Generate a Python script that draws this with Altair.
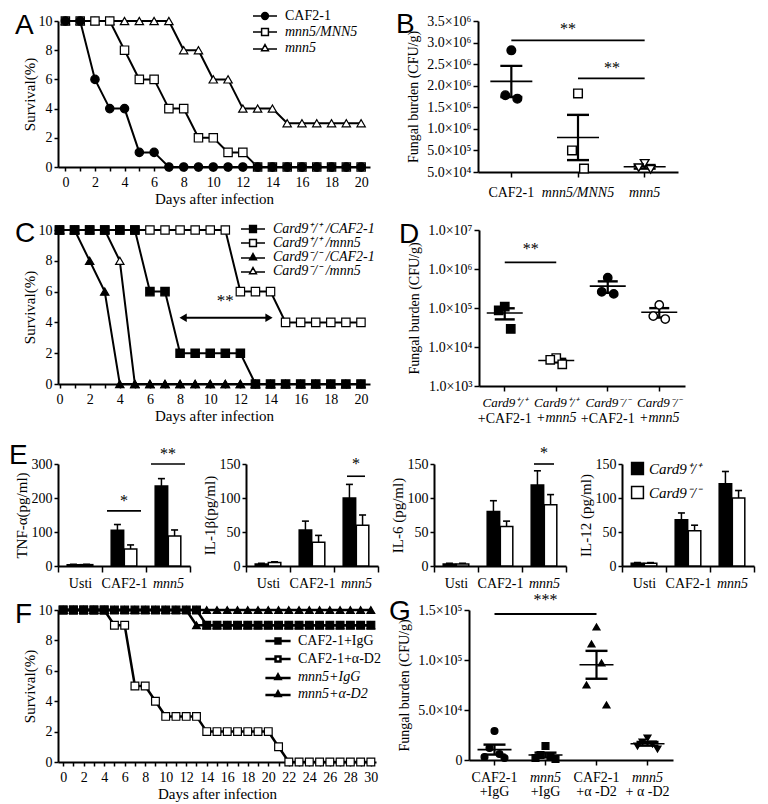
import altair as alt
import pandas as pd

SERIF = "Liberation Serif"
SANS = "Liberation Sans"

# ---------------- Panel A data ----------------
a_days = list(range(21))
a_names = ["CAF2-1", "mnn5/MNN5", "mnn5"]
a_caf = [10, 10, 6, 4, 4, 1, 1, 0, 0, 0, 0, 0, 0, 0, 0, 0, 0, 0, 0, 0, 0]
a_rev = [10, 10, 10, 10, 8, 6, 6, 4, 4, 2, 2, 1, 1, 0, 0, 0, 0, 0, 0, 0, 0]
a_mut = [10, 10, 10, 10, 10, 10, 10, 10, 8, 8, 6, 6, 4, 4, 4, 3, 3, 3, 3, 3, 3]

# ---------------- Panel B data ----------------
b_groups = ["CAF2-1", "mnn5/MNN5", "mnn5"]
b_caf = [2.82e6, 1.78e6, 1.70e6]
b_rev = [1.82e6, 0.50e6, 0.08e6]
b_mut = [0.20e6, 0.10e6, 0.06e6]
b_yticks = [0, 5e5, 1e6, 1.5e6, 2e6, 2.5e6, 3e6, 3.5e6]
b_sig_from = ["CAF2-1", "mnn5/MNN5"]
b_sig_to = ["mnn5", "mnn5"]
b_sig_y = [3.05e6, 2.17e6]
b_sig_text_y = [3.32e6, 2.42e6]

# ---------------- Panel C data ----------------
c_days = list(range(21))
c_names = ["Card9⁺/⁺ /CAF2-1", "Card9⁺/⁺ /mnn5", "Card9⁻/⁻ /CAF2-1", "Card9⁻/⁻ /mnn5"]
c_wt_caf = [10, 10, 10, 10, 10, 10, 6, 6, 2, 2, 2, 2, 2, 0, 0, 0, 0, 0, 0, 0, 0]
c_wt_mut = [10, 10, 10, 10, 10, 10, 10, 10, 10, 10, 10, 10, 6, 6, 6, 4, 4, 4, 4, 4, 4]
c_ko_caf = [10, 10, 8, 6, 0, 0, 0, 0, 0, 0, 0, 0, 0, 0, 0, 0, 0, 0, 0, 0, 0]
c_ko_mut = [10, 10, 10, 10, 8, 0, 0, 0, 0, 0, 0, 0, 0, 0, 0, 0, 0, 0, 0, 0, 0]
c_arrow_days = [8.2, 13.9]
c_arrow_y = 4.3
c_star_day = 11
c_star_y = 5.4

# ---------------- Panel D data ----------------
d_line1 = ["Card9⁺/⁺", "Card9⁺/⁺", "Card9⁻/⁻", "Card9⁻/⁻"]
d_line2 = ["+CAF2-1", "+mnn5", "+CAF2-1", "+mnn5"]
d_wt_caf = [1.08e5, 8.7e4, 2.9e4]
d_wt_mut = [5.2e3, 4.7e3, 3.6e3]
d_ko_caf = [6.0e5, 2.6e5, 2.3e5]
d_ko_mut = [1.2e5, 6.2e4, 5.2e4]
d_yticks = [1e3, 1e4, 1e5, 1e6, 1e7]
d_sig_y = 1.48e6
d_sig_text_y = 3.2e6

# ---------------- Panel E data ----------------
e_cats = ["Usti", "CAF2-1", "mnn5"]
e_geno = ["Card9⁺/⁺", "Card9⁻/⁻"]
e_tnf_wt, e_tnf_wt_err = [4, 105, 235], [1, 17, 22]
e_tnf_ko, e_tnf_ko_err = [4, 50, 88], [1, 12, 18]
e_il1_wt, e_il1_wt_err = [3, 53, 100], [1, 13, 20]
e_il1_ko, e_il1_ko_err = [5, 35, 60], [1, 10, 15]
e_il6_wt, e_il6_wt_err = [3, 80, 119], [1, 16, 21]
e_il6_ko, e_il6_ko_err = [3, 58, 90], [1, 8, 15]
e_il12_wt, e_il12_wt_err = [4, 68, 121], [1, 10, 18]
e_il12_ko, e_il12_ko_err = [4, 52, 100], [1, 8, 11]

# ---------------- Panel F data ----------------
f_days = list(range(31))
f_names = ["CAF2-1+IgG", "CAF2-1+α-D2", "mnn5+IgG", "mnn5+α-D2"]
f_caf_igg = [10, 10, 10, 10, 10, 10, 10, 10, 10, 10, 10, 10, 10, 10, 9, 9, 9, 9, 9, 9, 9, 9, 9, 9, 9, 9, 9, 9, 9, 9, 9]
f_caf_ad2 = [10, 10, 10, 10, 10, 9, 9, 5, 5, 4, 3, 3, 3, 3, 2, 2, 2, 2, 2, 2, 2, 1, 0, 0, 0, 0, 0, 0, 0, 0, 0]
f_mut_igg = [10, 10, 10, 10, 10, 10, 10, 10, 10, 10, 10, 10, 10, 9, 9, 9, 9, 9, 9, 9, 9, 9, 9, 9, 9, 9, 9, 9, 9, 9, 9]
f_mut_ad2 = [10, 10, 10, 10, 10, 10, 10, 10, 10, 10, 10, 10, 10, 10, 10, 10, 10, 10, 10, 10, 10, 10, 10, 10, 10, 10, 10, 10, 10, 10, 10]

# ---------------- Panel G data ----------------
g_line1 = ["CAF2-1", "mnn5", "CAF2-1", "mnn5"]
g_line2 = ["+IgG", "+IgG", "+α -D2", "+ α -D2"]
g_caf_igg = [2.9e4, 1.2e4, 6e3, 3e3, 2e3]
g_mut_igg = [1.4e4, 5e3, 3e3, 2e3, 1e3]
g_caf_ad2 = [1.33e5, 1.16e5, 9.7e4, 7.5e4, 5.5e4]
g_mut_ad2 = [2.2e4, 1.8e4, 1.6e4, 1.4e4, 1.1e4]
g_yticks = [0, 5e4, 1e5, 1.5e5]
g_sig_y = 1.46e5
g_sig_text_y = 1.6e5


# ================= helpers =================
def long_surv(days, names, series):
    rows = []
    for n, vals in zip(names, series):
        for d, v in zip(days, vals):
            rows.append({"day": d, "surv": v, "series": n})
    return pd.DataFrame(rows)


def scatter_df(groups, lists):
    rows = []
    for g, vals in zip(groups, lists):
        for v in vals:
            rows.append({"grp": g, "val": v})
    return pd.DataFrame(rows)


def lpath(kind, L=3.0, m=0.85):
    if kind == "circle":
        return (f"M{-L},0H{-m}M{m},0H{L}"
                f"M{-m},0A{m},{m},0,1,0,{m},0A{m},{m},0,1,0,{-m},0Z")
    if kind == "square":
        return f"M{-L},0H{-m}M{m},0H{L}M{-m},{-m}H{m}V{m}H{-m}Z"
    g = round(0.72 * m, 3)
    return f"M{-L},0.25H{-g}M{g},0.25H{L}M0,{-m}L{m},{round(0.8*m,3)}H{-m}Z"


def letter(ch, dx, dy):
    return alt.Chart(pd.DataFrame({"t": [ch]})).mark_text(
        font=SANS, fontSize=28, align="left", baseline="top", color="black"
    ).encode(text="t:N", x=alt.value(dx), y=alt.value(dy))


def cond_italic(test):
    return {"condition": {"test": test, "value": "italic"}, "value": "normal"}


def surv_panel(df, names, shapes, fills, lkinds, w, h, xdom, xvals, leg_x, leg_y,
               leg_style, letter_ch, ldx, ldy, psize=70, lsize=64, lstroke=1.5,
               line_w=2, L=3.0, m=0.85, row_pad=2, extra=()):
    def X(f):
        return alt.X(f, scale=alt.Scale(domain=xdom, nice=False, zero=False),
                     axis=alt.Axis(values=xvals,
                                   labelExpr="datum.value % 2 == 0 ? datum.label : ''",
                                   tickSize=4, labelPadding=4, titlePadding=2,
                                   labelFlush=False, labelOverlap=False),
                     title="Days after infection")

    def Y(f):
        return alt.Y(f, scale=alt.Scale(domain=[0, 10], nice=False),
                     axis=alt.Axis(values=[0, 2, 4, 6, 8, 10], tickSize=4, titlePadding=1,
                                   labelPadding=2),
                     title="Survival(%)")

    line = alt.Chart(df).mark_line(color="black", strokeWidth=line_w).encode(
        x=X("day:Q"), y=Y("surv:Q"), detail="series:N")
    pts = alt.Chart(df).mark_point(filled=True, opacity=1, stroke="black",
                                   strokeWidth=1.2, size=psize).encode(
        x=X("day:Q"), y=Y("surv:Q"),
        shape=alt.Shape("series:N", scale=alt.Scale(domain=names, range=shapes), legend=None),
        fill=alt.Fill("series:N", scale=alt.Scale(domain=names, range=fills), legend=None))
    main_layers = [line, pts]
    for e in extra:
        main_layers.append(e(X, Y))
    main_layers.append(letter(letter_ch, ldx, ldy))
    main = alt.layer(*main_layers)

    lp = dict(title=None, orient="none", legendX=leg_x, legendY=leg_y, symbolSize=lsize,
              symbolStrokeWidth=lstroke, symbolStrokeColor="black", labelOffset=13,
              rowPadding=row_pad, labelFontSize=14, labelFont=SERIF, labelColor="black",
              labelFontStyle=leg_style, symbolOpacity=1)
    # legend-only layer: its points fall outside its own y-domain and are clipped away
    leg = alt.Chart(df).mark_point(filled=True, clip=True, opacity=1,
                                   strokeWidth=lstroke).encode(
        x=X("day:Q"),
        y=alt.Y("surv:Q", scale=alt.Scale(domain=[-30, -20]), axis=None),
        shape=alt.Shape("series:N", scale=alt.Scale(
            domain=names, range=[lpath(k, L, m) for k in lkinds]), legend=alt.Legend(**lp)),
        fill=alt.Fill("series:N", scale=alt.Scale(domain=names, range=fills),
                      legend=alt.Legend(**lp)),
        stroke=alt.Stroke("series:N", scale=alt.Scale(domain=names, range=["black"] * len(names)),
                          legend=alt.Legend(**lp)))
    return alt.layer(main, leg).resolve_scale(
        y="independent", shape="independent", fill="independent",
        stroke="independent").properties(width=w, height=h)


def scatter_layers(df, groups, shapes, fills, psize, X, Y, jit, mean_len, cap_len):
    pts = (alt.Chart(df)
           .transform_window(rk="row_number()", groupby=["grp"],
                             sort=[alt.SortField("val", order="descending")])
           .transform_calculate(
               off="datum.rk == 1 ? 0 : (datum.rk % 2 == 0 ? -1 : 1) * floor(datum.rk / 2)")
           .mark_point(filled=True, size=psize, stroke="black", strokeWidth=1.4, opacity=1)
           .encode(x=X("grp:N"),
                   xOffset=alt.XOffset("off:Q", scale=alt.Scale(domain=[-1, 1], range=[-jit, jit])),
                   y=Y("val:Q"),
                   shape=alt.Shape("grp:N", scale=alt.Scale(domain=groups, range=shapes), legend=None),
                   fill=alt.Fill("grp:N", scale=alt.Scale(domain=groups, range=fills), legend=None)))
    stats = (alt.Chart(df)
             .transform_aggregate(m="mean(val)", se="stderr(val)", groupby=["grp"])
             .transform_calculate(lo="datum.m - datum.se", hi="datum.m + datum.se"))
    rule = stats.mark_rule(color="black", strokeWidth=2.2).encode(
        x=X("grp:N"), y=Y("lo:Q"), y2=alt.Y2("hi:Q"))
    mean = stats.mark_tick(color="black", size=mean_len, thickness=1.6, opacity=1).encode(
        x=X("grp:N"), y=Y("m:Q"))
    caps = stats.transform_fold(["lo", "hi"], as_=["k", "v"]).mark_tick(
        color="black", size=cap_len, thickness=2.4, opacity=1).encode(x=X("grp:N"), y=Y("v:Q"))
    return [rule, mean, caps, pts]


def cat_scale(groups):
    # band scale with zero bandwidth: categories sit exactly on step centres
    return alt.Scale(domain=groups, type="band", paddingInner=1, paddingOuter=0.5)


def sig_rule(a, b, yv, X, Y):
    return alt.Chart(pd.DataFrame({"a": [a], "b": [b], "y": [yv]})).mark_rule(
        color="black", strokeWidth=1.8).encode(x=X("a:N"), x2=alt.X2("b"), y=Y("y:Q"))


def sig_text(at, yv, txt, X, Y, dx=0, size=16):
    return alt.Chart(pd.DataFrame({"at": [at], "y": [yv], "t": [txt]})).mark_text(
        font=SERIF, fontSize=size, color="black", dx=dx, baseline="middle").encode(
        x=X("at:N"), y=Y("y:Q"), text="t:N")


FB_TITLE = "Fungal burden (CFU/g)"

# ================= Panel A =================
dfA = long_surv(a_days, [a_names[2], a_names[1], a_names[0]], [a_mut, a_rev, a_caf])
A = surv_panel(dfA, a_names, ["circle", "square", "triangle-up"], ["black", "white", "white"],
               ["circle", "square", "triangle"], 312, 146, [-0.5, 20.6], a_days,
               200, -12, {"expr": "datum.label == 'CAF2-1' ? 'normal' : 'italic'"},
               "A", -43, -9, row_pad=2)


# ================= Panel B =================
def B_panel():
    w, h = 200, 151
    xax = alt.Axis(labelAngle=0, labelPadding=8, tickSize=5, labelFontSize=14,
                   labelFontStyle=cond_italic("datum.value != 'CAF2-1'"))
    ys = alt.Scale(domain=[0, 3.5e6], nice=False)
    yax = alt.Axis(values=b_yticks, tickSize=5, titlePadding=6, titleFontSize=14,
                   labelExpr="datum.value == 0 ? '5.0×10⁴' : (datum.value < 1e6 ? '5.0×10⁵' : "
                             "format(datum.value / 1e6, '.1f') + '×10⁶')")

    def X(f):
        return alt.X(f, scale=cat_scale(b_groups), axis=xax, title=None)

    def Y(f):
        return alt.Y(f, scale=ys, axis=yax, title=FB_TITLE)

    df = scatter_df(b_groups, [b_caf, b_rev, b_mut])
    layers = scatter_layers(df, b_groups, ["circle", "square", "triangle-down"],
                            ["black", "white", "white"], 75, X, Y, 6, 42, 22)
    layers += [sig_rule(b_sig_from[0], b_sig_to[0], b_sig_y[0], X, Y),
               sig_rule(b_sig_from[1], b_sig_to[1], b_sig_y[1], X, Y),
               sig_text(b_groups[1], b_sig_text_y[0], "**", X, Y, dx=-10),
               sig_text(b_groups[1], b_sig_text_y[1], "**", X, Y, dx=34),
               letter("B", -82, -10)]
    return alt.layer(*layers).properties(width=w, height=h)


B = B_panel()


# ================= Panel C =================
def arrow_layers(X, Y):
    adf = pd.DataFrame({"x1": [c_arrow_days[0]], "x2": [c_arrow_days[1]], "y": [c_arrow_y]})
    rule = alt.Chart(adf).mark_rule(color="black", strokeWidth=2).encode(
        x=X("x1:Q"), x2=alt.X2("x2"), y=Y("y:Q"))
    left = alt.Chart(adf).mark_point(shape="triangle-left", filled=True, color="black",
                                     size=70, opacity=1).encode(x=X("x1:Q"), y=Y("y:Q"))
    right = alt.Chart(adf).mark_point(shape="triangle-right", filled=True, color="black",
                                      size=70, opacity=1).encode(x=X("x2:Q"), y=Y("y:Q"))
    txt = alt.Chart(pd.DataFrame({"d": [c_star_day], "y": [c_star_y], "t": ["**"]})).mark_text(
        font=SERIF, fontSize=17, color="black").encode(x=X("d:Q"), y=Y("y:Q"), text="t:N")
    return alt.layer(rule, left, right, txt)


dfC = long_surv(c_days, [c_names[3], c_names[1], c_names[2], c_names[0]],
                [c_ko_mut, c_wt_mut, c_ko_caf, c_wt_caf])
C = surv_panel(dfC, c_names, ["square", "square", "triangle-up", "triangle-up"],
               ["black", "white", "black", "white"],
               ["square", "square", "triangle", "triangle"], 312, 154, [-0.1, 20.6], c_days,
               188, -8, "italic", "C", -43, -10, row_pad=0, extra=[arrow_layers])


# ================= Panel D =================
def D_panel():
    w, h = 206, 156
    groups = [a + "|" + b for a, b in zip(d_line1, d_line2)]
    xax = alt.Axis(labelAngle=0, labelPadding=5, tickSize=5, labelFontSize=13,
                   labelFontStyle="italic", labelExpr="split(datum.label, '|')[0]")
    ys = alt.Scale(type="log", domain=[1e3, 1e7], nice=False)
    yax = alt.Axis(values=d_yticks, tickSize=5, titlePadding=6, titleFontSize=14,
                   labelExpr="'1.0×10' + ['³','⁴','⁵','⁶','⁷'][round(log(datum.value) / LN10) - 3]")

    def X(f):
        return alt.X(f, scale=cat_scale(groups), axis=xax, title=None)

    def Y(f):
        return alt.Y(f, scale=ys, axis=yax, title=FB_TITLE)

    df = scatter_df(groups, [d_wt_caf, d_wt_mut, d_ko_caf, d_ko_mut])
    layers = scatter_layers(df, groups, ["square", "square", "circle", "circle"],
                            ["black", "white", "black", "white"], 70, X, Y, 6, 36, 20)
    l2 = pd.DataFrame({"grp": groups, "l2": d_line2})
    t_norm = alt.Chart(l2).transform_filter("indexof(datum.l2, 'mnn5') < 0").mark_text(
        font=SERIF, fontSize=14, color="black", baseline="middle").encode(
        x=X("grp:N"), y=alt.value(h + 33), text="l2:N")
    t_ital = alt.Chart(l2).transform_filter("indexof(datum.l2, 'mnn5') >= 0").mark_text(
        font=SERIF, fontSize=14, color="black", baseline="middle", fontStyle="italic").encode(
        x=X("grp:N"), y=alt.value(h + 32), text="l2:N")
    layers += [sig_rule(groups[0], groups[1], d_sig_y, X, Y),
               sig_text(groups[0], d_sig_text_y, "**", X, Y, dx=26),
               t_norm, t_ital, letter("D", -80, -9)]
    return alt.layer(*layers).properties(width=w, height=h)


D = D_panel()


# ================= Panel E =================
def cyto_panel(title, wt, wt_err, ko, ko_err, ymax, yticks, sigs, w, h,
               show_legend=False, letter_ch=None, title_pad=2):
    df = pd.DataFrame({"cat": e_cats + e_cats,
                       "geno": [e_geno[0]] * 3 + [e_geno[1]] * 3,
                       "val": wt + ko, "err": wt_err + ko_err})
    xs = alt.Scale(domain=e_cats, paddingInner=0, paddingOuter=0)
    xax = alt.Axis(labelAngle=0, tickBand="extent", tickSize=6, labelPadding=4,
                   labelFontSize=14, labelFontStyle=cond_italic("datum.value == 'mnn5'"))
    ys = alt.Scale(domain=[0, ymax], nice=False)
    yax = alt.Axis(values=yticks, tickSize=4, titlePadding=title_pad, labelPadding=2)

    def X(f):
        return alt.X(f, scale=xs, axis=xax, title=None)

    def Y(f):
        return alt.Y(f, scale=ys, axis=yax, title=title)

    xo = alt.XOffset("geno:N", scale=alt.Scale(domain=e_geno, paddingInner=0.05, paddingOuter=0.7))
    if show_legend:
        leg = alt.Legend(title=None, orient="none", legendX=8, legendY=-3, symbolType="square",
                         symbolSize=140, symbolStrokeColor="black", symbolStrokeWidth=1.5,
                         labelFontStyle="italic", labelFontSize=15, labelFont=SERIF,
                         labelColor="black", rowPadding=5, labelOffset=4)
    else:
        leg = None
    base = alt.Chart(df).transform_calculate(top="datum.val + datum.err")
    bars = base.mark_bar(stroke="black", strokeWidth=1.5).encode(
        x=X("cat:N"), xOffset=xo, y=Y("val:Q"),
        fill=alt.Fill("geno:N", scale=alt.Scale(domain=e_geno, range=["black", "white"]), legend=leg))
    err = base.mark_rule(color="black", strokeWidth=1.5).encode(
        x=X("cat:N"), xOffset=xo, y=Y("val:Q"), y2=alt.Y2("top:Q"))
    cap = base.mark_tick(color="black", size=7, thickness=1.6, opacity=1).encode(
        x=X("cat:N"), xOffset=xo, y=Y("top:Q"))
    layers = [err, cap, bars]
    for cat, ly, ty, txt, ln in sigs:
        sdf = pd.DataFrame({"cat": [cat], "ly": [ly], "ty": [ty], "t": [txt]})
        layers.append(alt.Chart(sdf).mark_tick(color="black", size=ln, thickness=1.6, opacity=1)
                      .encode(x=X("cat:N"), y=Y("ly:Q")))
        layers.append(alt.Chart(sdf).mark_text(font=SERIF, fontSize=16, color="black",
                                               baseline="middle")
                      .encode(x=X("cat:N"), y=Y("ty:Q"), text="t:N"))
    if letter_ch:
        layers.append(letter(letter_ch, -49, -22))
    return alt.layer(*layers).properties(width=w, height=h)


EW, EH = 132, 102
E1 = cyto_panel("TNF-α(pg/ml)", e_tnf_wt, e_tnf_wt_err, e_tnf_ko, e_tnf_ko_err, 300,
                [0, 100, 200, 300],
                [("CAF2-1", 162, 192, "*", 34), ("mnn5", 300, 330, "**", 34)],
                EW, EH, letter_ch="E")
E2 = cyto_panel("IL-1β(pg/ml)", e_il1_wt, e_il1_wt_err, e_il1_ko, e_il1_ko_err, 150,
                [0, 50, 100, 150], [("mnn5", 132, 150, "*", 18)], EW, EH)
E3 = cyto_panel("IL-6 (pg/ml)", e_il6_wt, e_il6_wt_err, e_il6_ko, e_il6_ko_err, 150,
                [0, 50, 100, 150], [("mnn5", 150, 166, "*", 20)], EW, EH)
E4 = cyto_panel("IL-12 (pg/ml)", e_il12_wt, e_il12_wt_err, e_il12_ko, e_il12_ko_err, 150,
                [0, 50, 100, 150], [], EW, EH, show_legend=True)

# ================= Panel F =================
dfF = long_surv(f_days, [f_names[3], f_names[2], f_names[1], f_names[0]],
                [f_mut_ad2, f_mut_igg, f_caf_ad2, f_caf_igg])
F = surv_panel(dfF, f_names, ["square", "square", "triangle-up", "triangle-up"],
               ["black", "white", "black", "black"],
               ["square", "square", "triangle", "triangle"], 318, 152, [-0.5, 30.5], f_days,
               213, 24, {"expr": "indexof(datum.label, 'mnn5') == 0 ? 'italic' : 'normal'"},
               "F", -43, -9, psize=60, lsize=49, lstroke=2.5, line_w=2.5, L=3.6, m=0.7,
               row_pad=2)


# ================= Panel G =================
def G_panel():
    w, h = 204, 150
    groups = [a + "|" + b for a, b in zip(g_line1, g_line2)]
    xax = alt.Axis(labelAngle=0, labelPadding=5, tickSize=5, labelFontSize=14,
                   labelExpr="split(datum.label, '|')[0]",
                   labelFontStyle=cond_italic("indexof(datum.value, 'mnn5') == 0"))
    ys = alt.Scale(domain=[0, 1.5e5], nice=False)
    yax = alt.Axis(values=g_yticks, tickSize=5, titlePadding=6, titleFontSize=14,
                   labelExpr="datum.value == 0 ? '0' : datum.value == 50000 ? '5.0×10⁴' : "
                             "datum.value == 100000 ? '1.0×10⁵' : '1.5×10⁵'")

    def X(f):
        return alt.X(f, scale=cat_scale(groups), axis=xax, title=None)

    def Y(f):
        return alt.Y(f, scale=ys, axis=yax, title=FB_TITLE)

    df = scatter_df(groups, [g_caf_igg, g_mut_igg, g_caf_ad2, g_mut_ad2])
    layers = scatter_layers(df, groups, ["circle", "square", "triangle-up", "triangle-down"],
                            ["black", "black", "black", "black"], 45, X, Y, 5, 34, 22)
    l2 = pd.DataFrame({"grp": groups, "l2": g_line2})
    t2 = alt.Chart(l2).mark_text(font=SERIF, fontSize=14, color="black", baseline="middle").encode(
        x=X("grp:N"), y=alt.value(h + 32), text="l2:N")
    layers += [sig_rule(groups[0], groups[2], g_sig_y, X, Y),
               sig_text(groups[1], g_sig_text_y, "***", X, Y),
               t2, letter("G", -80, -12)]
    return alt.layer(*layers).properties(width=w, height=h)


G = G_panel()

RES = dict(x="independent", y="independent", shape="independent", fill="independent",
           stroke="independent", xOffset="independent")

row1 = alt.hconcat(A, B, spacing=26).resolve_scale(**RES)
row2 = alt.hconcat(C, D, spacing=24).resolve_scale(**RES)
row3 = alt.hconcat(E1, E2, E3, E4, spacing=11).resolve_scale(**RES)
row4 = alt.hconcat(F, G, spacing=8).resolve_scale(**RES)

row34 = alt.concat(row3, row4, columns=1, spacing=2, align="none").resolve_scale(**RES)
row234 = alt.concat(row2, row34, columns=1, spacing=16, align="none").resolve_scale(**RES)

chart = (alt.concat(row1, row234, columns=1, spacing=14, align="none")
         .resolve_scale(**RES)
         .properties(padding=1, background="white")
         .configure_view(stroke=None)
         .configure_axis(domainColor="black", domainWidth=2, tickColor="black", tickWidth=1.5,
                         labelColor="black", labelFont=SERIF, labelFontSize=14,
                         titleFont=SERIF, titleFontSize=15, titleFontWeight="normal",
                         titleColor="black", grid=False)
         .configure_legend(labelFont=SERIF, labelColor="black"))

chart.save("out.html", embed_options={"renderer": "svg", "actions": False})
